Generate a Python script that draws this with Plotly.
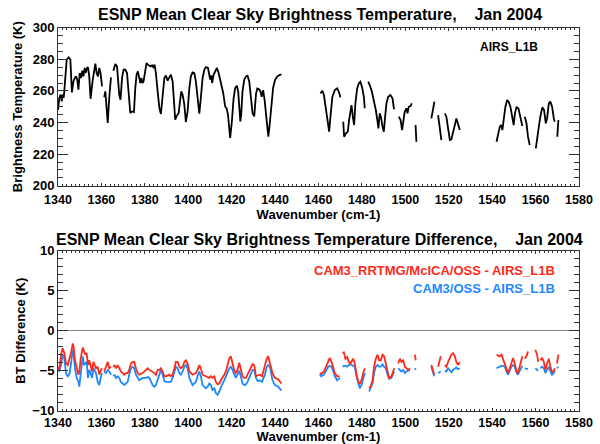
import plotly.graph_objects as go

# ---------------- data ----------------
WN_TOP = [
    1340.0, 1340.6, 1341.2, 1341.7, 1342.1, 1342.6, 1342.9, 1343.4, 1344.0, 1344.9, 1345.7, 1346.4,
    1347.1, 1347.7, 1348.3, 1348.9, 1349.4, 1350.0, 1350.6, 1351.2, 1351.7, 1352.3, 1352.7, 1353.4,
    1353.8, 1354.4, 1355.0, 1355.9, 1356.6, 1357.2, 1357.8, 1358.4, 1359.0, 1359.6, 1360.3, None,
    1361.3, 1361.8, 1362.4, 1362.9, 1363.6, 1364.4, None,
    1365.5, 1366.4, 1367.2, 1367.6, 1368.2, 1368.8, 1369.5, 1370.2, 1371.0, 1371.8, 1372.5, 1373.3,
    1374.1, 1375.0, 1375.6, 1376.2, 1376.8, 1377.4, 1377.9, 1378.4, 1378.9, 1379.4, 1380.2, 1380.8,
    1381.4, 1382.0, 1382.7, 1383.3, 1383.9, 1384.5, 1385.1, 1385.9, 1386.7, 1387.4, 1388.2, 1389.0,
    1389.7, 1390.5, 1391.3, 1392.0, 1392.8, 1393.4, 1394.0, 1394.6, 1395.6, 1396.2, 1396.8, 1397.4,
    1398.2, 1398.9, 1399.7, 1400.5, 1401.2, 1402.0, 1402.8, 1403.5, 1404.3, 1405.1, 1405.8, 1406.6,
    1407.4, 1408.1, 1409.1, 1409.7, 1410.1, 1410.6, 1411.0, 1411.7, 1412.4, 1413.2, 1414.0, 1414.7,
    1415.4, 1416.1, 1417.0, 1417.7, 1418.3, 1418.9, 1419.3, 1420.1, 1420.9, 1421.6, 1422.4, 1423.0,
    1424.0, 1424.4, 1425.0, 1425.8, 1426.6, 1427.3, 1428.1, 1428.9, 1429.6, 1430.4, 1431.2, 1431.8,
    1432.6, 1433.3, 1433.8, 1434.5, 1435.2, 1436.1, 1436.9, 1437.6, 1438.3, 1439.1, 1440.0, 1440.9,
    1442.0, 1442.9, None,
    1460.9, 1461.8, 1462.5, 1463.4, 1464.1, 1464.9, 1465.5, 1466.4, 1467.5, 1468.6, 1469.5, 1470.1, None,
    1471.4, 1471.8, 1472.6, 1473.5, 1474.1, 1474.7, 1475.2, 1475.8, 1476.4, 1477.0, 1477.8, 1478.6,
    1479.3, 1480.1, 1480.9, 1481.3, None,
    1482.9, 1483.6, 1484.6, 1485.5, 1486.4, 1487.2, 1487.6, 1488.2, 1488.9, 1489.5, 1490.1, 1490.7,
    1491.3, 1492.1, 1493.1, 1494.1, 1494.8, None,
    1497.0, 1497.8, 1498.5, 1499.1, 1499.7, 1500.5, 1501.0, 1501.6, 1502.4, 1503.0, None,
    1504.7, 1505.1, None,
    1512.0, 1512.8, 1513.4, None,
    1515.1, 1515.9, 1516.6, None,
    1518.2, 1518.9, 1519.7, 1520.5, 1521.2, 1522.0, 1522.8, 1523.5, 1524.3, 1525.1, None,
    1542.0, 1542.7, 1543.5, 1544.1, 1544.7, 1545.3, 1546.1, 1546.9, 1547.6, 1548.4, 1549.2, 1549.9,
    1550.5, 1551.2, 1552.1, 1552.7, 1553.5, 1553.9, None,
    1555.0, 1555.8, 1556.5, 1557.3, None,
    1560.1, 1560.7, 1561.6, 1562.2, 1563.1, 1563.9, 1564.7, 1565.3, 1566.1, 1566.8, 1567.6, 1568.4,
    1568.8, None,
    1570.0, 1570.5,
]
BT_AIRS = [
    248.0, 255.5, 257.6, 253.4, 257.6, 255.5, 259.7, 272.4, 279.8, 281.2, 279.8, 259.0,
    266.0, 268.0, 269.2, 267.0, 260.8, 271.3, 268.2, 272.8, 269.2, 274.5, 271.3, 274.5,
    275.0, 269.2, 255.0, 266.0, 272.4, 277.2, 271.3, 269.2, 274.5, 271.3, 262.9, None,
    256.0, 259.7, 249.2, 239.7, 255.5, 268.6, None,
    272.8, 277.0, 275.5, 269.2, 257.6, 254.4, 268.2, 273.4, 273.4, 271.3, 257.6, 246.0,
    247.0, 246.6, 261.8, 270.3, 272.4, 269.2, 265.0, 268.2, 265.0, 266.0, 274.5, 277.7,
    276.6, 276.2, 275.5, 276.2, 275.0, 276.6, 271.3, 259.7, 249.2, 245.4, 255.5, 268.2,
    269.8, 266.5, 268.6, 270.3, 266.0, 250.2, 241.8, 243.9, 246.0, 253.4, 259.7, 257.6,
    251.3, 240.3, 247.0, 261.8, 269.2, 271.7, 271.3, 266.0, 253.4, 245.6, 255.5, 268.2,
    273.4, 275.1, 274.5, 270.3, 267.1, 269.8, 265.0, 270.3, 272.8, 274.5, 271.3, 267.1,
    262.9, 258.7, 250.2, 248.8, 245.0, 236.5, 230.2, 240.7, 255.5, 261.8, 263.3, 259.7,
    240.7, 245.0, 259.7, 267.1, 269.2, 269.6, 266.0, 255.5, 246.0, 243.9, 258.0, 261.5,
    261.0, 259.5, 256.3, 260.5, 254.0, 241.5, 231.0, 240.0, 250.0, 262.0, 267.0, 269.0,
    270.0, 270.5, None,
    258.4, 260.1, 257.4, 247.9, 239.5, 234.2, 243.7, 256.3, 260.5, 261.6, 258.9, 255.9, None,
    240.5, 231.0, 233.1, 234.2, 241.6, 249.0, 251.0, 243.7, 238.4, 252.1, 261.6, 264.8,
    265.8, 262.2, 256.3, 249.0, None,
    265.8, 263.7, 259.5, 254.2, 247.9, 240.5, 236.3, 245.8, 242.6, 237.3, 234.2, 243.7,
    252.1, 256.3, 257.4, 255.3, 248.3, None,
    243.7, 241.6, 235.2, 241.6, 246.8, 249.0, 245.8, 250.0, 250.4, 252.1, None,
    238.4, 227.8, None,
    242.6, 249.0, 253.2, None,
    244.7, 236.3, 228.9, None,
    245.8, 243.7, 236.3, 228.9, 229.3, 233.1, 238.4, 242.6, 239.5, 235.2, None,
    227.8, 233.1, 237.3, 238.4, 235.2, 241.6, 250.0, 254.2, 253.2, 250.0, 244.7, 238.4,
    245.8, 249.6, 249.0, 245.8, 240.5, 237.8, None,
    243.7, 239.5, 231.0, 225.7, None,
    223.6, 231.0, 238.4, 243.7, 249.6, 247.9, 239.5, 242.6, 252.1, 253.2, 250.0, 242.6,
    240.5, None,
    231.0, 241.6,
]

WN_DIFF = [
    1340.0, 1340.6, 1341.4, 1342.1, 1342.9, 1343.7, 1344.5, 1345.2, 1346.0, 1346.8, 1347.2, 1347.8,
    1348.6, 1349.4, 1349.8, 1350.4, 1351.4, 1352.0, 1352.6, 1353.2, 1353.8, 1354.4, 1355.0, 1355.7,
    1356.3, 1356.9, 1357.5, 1358.3, 1359.0, 1359.8, 1360.3, None,
    1361.3, 1362.1, 1362.9, 1363.6, 1364.4, None,
    1365.5, 1366.0, 1366.7, 1367.5, 1368.2, 1369.0, 1369.8, 1370.5, 1371.3, 1372.1, 1372.8, 1373.6,
    1374.4, 1375.1, 1375.9, 1376.7, 1377.4, 1379.0, 1380.5, 1381.3, 1382.1, 1383.6, 1384.4, 1385.1,
    1385.9, 1386.7, 1387.4, 1388.2, 1389.0, 1389.7, 1391.3, 1392.0, 1392.8, 1393.6, 1394.3, 1395.1,
    1395.9, 1396.6, 1397.4, 1398.2, 1398.9, 1399.7, 1400.5, 1402.0, 1403.5, 1404.3, 1405.1, 1405.8,
    1406.6, 1408.1, 1408.9, 1409.7, 1410.4, 1411.2, 1412.0, 1412.7, 1413.5, 1414.3, 1415.0, 1415.8,
    1416.6, 1417.3, 1418.1, 1418.9, 1419.6, 1420.4, 1421.2, 1421.9, 1422.7, 1423.5, 1424.2, 1425.0,
    1425.8, 1426.6, 1427.3, 1428.1, 1428.9, 1429.6, 1430.4, 1431.2, 1432.0, 1433.0, 1434.0, 1435.3,
    1436.0, 1436.8, 1437.6, 1438.8, 1439.9, 1441.5, 1442.9, None,
    1460.6, 1461.3, 1462.5, 1463.4, 1464.5, 1465.2, 1466.0, 1466.8, 1467.5, 1468.6, 1469.8, None,
    1471.1, 1471.7, 1472.4, 1473.2, 1474.0, 1474.7, 1476.0, 1476.7, 1477.5, 1478.3, 1479.0, 1479.8,
    1480.6, 1481.3, None,
    1483.3, 1484.0, 1484.9, 1485.6, 1486.4, 1487.2, 1487.9, 1488.7, 1489.5, 1490.2, 1491.0, 1491.8,
    1492.5, 1493.6, 1494.4, 1494.9, None,
    1496.7, 1497.5, 1498.2, 1499.0, 1499.8, 1500.5, 1501.3, 1502.1, None,
    1504.4, 1504.8, None,
    1512.0, 1512.8, 1513.3, None,
    1515.1, 1515.9, 1516.3, None,
    1518.2, 1518.9, 1519.7, 1520.5, 1521.2, 1522.0, 1522.8, 1523.5, 1524.3, 1525.1, None,
    1542.0, 1542.7, 1543.5, 1544.3, 1545.0, 1545.8, 1546.6, 1547.3, 1548.1, 1548.9, 1549.6, 1550.4,
    1551.2, 1551.9, 1552.7, 1553.5, 1553.9, None,
    1555.0, 1555.8, 1556.5, None,
    1559.9, 1560.7, 1561.2, None,
    1562.2, 1563.0, 1563.8, 1564.5, 1565.3, 1566.1, 1566.8, 1567.6, 1568.4, 1568.8, None,
    1569.9, 1570.5,
]
DIFF_RRTMG = [
    -4.5, -4.9, -3.0, -2.2, -2.8, -4.1, -4.3, -3.7, -2.8, -1.6, -2.0, -3.7,
    -4.7, -5.5, -5.2, -3.6, -2.1, -2.6, -3.0, -2.8, -4.3, -3.7, -4.5, -5.1,
    -3.9, -4.3, -4.7, -4.5, -5.5, -4.9, -4.7, None,
    -5.1, -4.5, -3.9, -4.7, -4.5, None,
    -4.5, -4.3, -4.7, -4.3, -4.7, -5.1, -5.3, -5.5, -5.3, -5.3, -4.9, -4.1,
    -3.9, -3.9, -4.7, -5.3, -5.5, -5.3, -4.9, -4.7, -4.9, -5.1, -5.3, -5.5,
    -4.9, -4.9, -4.7, -5.1, -5.7, -5.7, -5.5, -5.7, -5.5, -4.7, -3.9, -3.9,
    -4.5, -4.7, -4.5, -3.9, -3.7, -4.1, -5.1, -5.5, -5.3, -4.9, -4.3, -4.7,
    -5.5, -5.7, -5.8, -5.9, -5.7, -5.9, -5.7, -6.4, -6.7, -6.6, -6.2, -5.9,
    -5.5, -5.1, -4.3, -3.5, -3.2, -4.1, -5.0, -5.3, -4.9, -4.0, -4.8, -5.7,
    -5.9, -5.9, -5.5, -5.1, -4.7, -4.2, -4.3, -5.7, -5.6, -5.5, -5.7, -4.5,
    -3.6, -3.2, -4.0, -5.3, -5.9, -6.1, -6.6, None,
    -5.3, -5.4, -5.1, -4.5, -3.7, -3.4, -3.9, -4.7, -5.3, -5.7, -5.7, None,
    -2.8, -2.7, -3.5, -3.3, -3.9, -4.1, -3.5, -4.1, -5.5, -6.4, -6.6, -6.2,
    -5.3, -4.7, None,
    -7.2, -7.0, -6.2, -4.5, -3.5, -3.0, -3.7, -3.7, -3.0, -3.2, -4.1, -5.3,
    -5.9, -5.7, -5.1, -4.7, None,
    -4.1, -3.5, -3.9, -3.7, -4.5, -4.7, -4.9, -4.7, None,
    -3.0, -3.7, None,
    -4.3, -5.1, -5.5, None,
    -4.5, -3.7, -3.2, None,
    -4.3, -4.5, -3.9, -3.5, -3.0, -2.8, -3.2, -3.9, -4.3, -3.9, None,
    -3.0, -3.1, -3.2, -3.0, -3.5, -4.1, -4.9, -5.3, -4.7, -3.9, -3.4, -4.1,
    -5.1, -5.3, -4.5, -3.5, -3.2, None,
    -3.5, -3.2, -2.6, None,
    -2.4, -3.0, -3.9, None,
    -3.7, -3.4, -3.9, -4.9, -4.1, -3.5, -4.5, -5.2, -5.0, -4.7, None,
    -4.1, -3.0,
]
DIFF_OSS = [
    -4.7, -5.1, -4.3, -3.0, -3.5, -5.3, -5.7, -5.5, -4.1, -2.4, -2.8, -4.7,
    -5.9, -6.4, -7.0, -5.5, -3.2, -4.3, -4.1, -3.9, -5.9, -4.9, -5.3, -5.9,
    -4.7, -5.1, -5.3, -6.4, -6.8, -5.7, -5.3, None,
    -5.1, -5.3, -4.9, -5.1, -5.5, None,
    -5.7, -5.5, -5.9, -5.7, -5.9, -6.4, -6.6, -6.8, -6.6, -6.4, -5.5, -4.7,
    -4.5, -4.7, -5.5, -5.9, -6.2, -5.9, -5.9, -5.8, -5.9, -6.8, -7.0, -6.8,
    -6.2, -5.5, -4.9, -5.5, -6.3, -6.4, -6.4, -6.4, -5.9, -5.1, -4.5, -4.7,
    -5.3, -5.5, -5.1, -4.5, -4.3, -4.7, -5.9, -6.8, -6.4, -5.7, -5.1, -5.7,
    -6.8, -7.2, -7.0, -6.6, -6.8, -7.4, -7.2, -7.8, -8.0, -7.6, -7.0, -6.6,
    -6.2, -5.7, -5.1, -4.7, -4.5, -4.9, -5.5, -5.9, -5.5, -5.0, -5.7, -6.6,
    -6.8, -6.7, -6.4, -5.9, -5.3, -4.9, -4.9, -5.9, -6.3, -6.2, -6.4, -5.5,
    -4.6, -4.3, -4.5, -6.2, -6.8, -7.0, -7.5, None,
    -5.5, -5.7, -5.5, -5.1, -4.5, -4.4, -4.5, -5.1, -5.7, -6.2, -5.9, None,
    -4.5, -4.4, -4.4, -4.5, -4.3, -4.2, -4.4, -4.5, -5.7, -6.6, -7.2, -6.8,
    -5.9, -5.3, None,
    -7.6, -7.2, -6.6, -5.3, -4.5, -4.3, -4.5, -4.5, -4.2, -4.5, -4.7, -5.5,
    -6.0, -5.9, -5.5, -5.1, None,
    -4.7, -4.9, -5.1, -4.9, -5.3, -5.1, -5.0, -4.9, None,
    -4.7, -4.9, None,
    -4.5, -5.3, -5.7, None,
    -5.3, -5.1, -5.1, None,
    -5.0, -5.1, -4.7, -4.9, -5.2, -4.9, -4.7, -4.6, -4.8, -4.7, None,
    -4.7, -4.6, -4.5, -4.4, -4.4, -4.5, -5.1, -5.5, -5.0, -4.5, -4.3, -4.5,
    -5.2, -5.5, -5.0, -4.5, -4.4, None,
    -4.7, -4.8, -4.8, None,
    -4.7, -4.9, -5.0, None,
    -4.7, -4.5, -4.7, -5.3, -4.9, -4.5, -5.1, -5.5, -5.3, -5.0, None,
    -4.7, -4.5,
]

TITLE_TOP = "ESNP Mean Clear Sky Brightness Temperature,\u00a0\u00a0\u00a0\u00a0Jan 2004"
TITLE_BOT = "ESNP Mean Clear Sky Brightness Temperature Difference,\u00a0\u00a0\u00a0\u00a0Jan 2004"
LABEL_AIRS = "AIRS_L1B"
LABEL_RRTMG = "CAM3_RRTMG/McICA/OSS - AIRS_L1B"
LABEL_OSS = "CAM3/OSS - AIRS_L1B"
XTITLE = "Wavenumber (cm-1)"

# ---------------- figure ----------------
FONT = "Liberation Sans"
RED = "#FF2A1A"
BLUE = "#1E88FF"
AXC = "#333333"

fig = go.Figure()
fig.add_trace(go.Scatter(x=WN_TOP, y=BT_AIRS, mode="lines", line=dict(color="black", width=1.8),
                         xaxis="x", yaxis="y", showlegend=False, hoverinfo="skip"))
fig.add_trace(go.Scatter(x=WN_DIFF, y=DIFF_OSS, mode="lines", line=dict(color=BLUE, width=1.8),
                         xaxis="x2", yaxis="y2", showlegend=False, hoverinfo="skip"))
fig.add_trace(go.Scatter(x=WN_DIFF, y=DIFF_RRTMG, mode="lines", line=dict(color=RED, width=1.8),
                         xaxis="x2", yaxis="y2", showlegend=False, hoverinfo="skip"))

ytickfont = dict(family=FONT, size=13, color="black", weight="bold")
xtickfont = dict(family=FONT, size=12.5, color="black", weight="bold")
titlefont = dict(family=FONT, size=13, color="black", weight="bold")

def xax(anchor, standoff):
    return dict(domain=[58 / 600, 579 / 600], range=[1340, 1580], anchor=anchor, automargin=False,
                tick0=1340, dtick=20, ticks="inside", ticklen=3, tickcolor=AXC,
                minor=dict(dtick=2, ticks="inside", ticklen=2, tickcolor=AXC),
                showline=True, linecolor=AXC, linewidth=1, mirror="allticks",
                showgrid=False, zeroline=False, tickfont=xtickfont, ticklabelstandoff=standoff,
                title=dict(text=XTITLE, font=titlefont, standoff=2))

fig.update_layout(
    width=600, height=444, autosize=False,
    margin=dict(l=0, r=0, t=0, b=0),
    paper_bgcolor="white", plot_bgcolor="white",
    xaxis=xax("y", 2),
    xaxis2=xax("y2", 0),
    yaxis=dict(domain=[1 - 185.7 / 444, 1 - 27.7 / 444], range=[200, 300], anchor="x", automargin=False,
               tick0=200, dtick=20, ticks="inside", ticklen=10, tickcolor=AXC,
               minor=dict(dtick=5, ticks="inside", ticklen=5, tickcolor=AXC),
               showline=True, linecolor=AXC, linewidth=1, mirror="allticks",
               showgrid=False, zeroline=False, tickfont=ytickfont,
               title=dict(text="Brightness Temperature (K)", font=titlefont, standoff=7)),
    yaxis2=dict(domain=[1 - 410.7 / 444, 1 - 250.7 / 444], range=[-10, 10], anchor="x2", automargin=False,
                tick0=-10, dtick=5, ticks="inside", ticklen=10, tickcolor=AXC,
                minor=dict(dtick=1, ticks="inside", ticklen=5, tickcolor=AXC),
                showline=True, linecolor=AXC, linewidth=1, mirror="allticks",
                showgrid=False, zeroline=True, zerolinecolor="#8a8a8a", zerolinewidth=1,
                tickfont=ytickfont,
                title=dict(text="BT Difference (K)", font=titlefont, standoff=3)),
    annotations=[
        dict(text=TITLE_TOP, x=319.5 / 600, y=1 - 15 / 444, xref="paper", yref="paper",
             showarrow=False, xanchor="center", yanchor="middle",
             font=dict(family=FONT, size=16, color="black", weight="bold")),
        dict(text=TITLE_BOT, x=319 / 600, y=1 - 239 / 444, xref="paper", yref="paper",
             showarrow=False, xanchor="center", yanchor="middle",
             font=dict(family=FONT, size=16, color="black", weight="bold")),
        dict(text=LABEL_AIRS, x=540 / 600, y=1 - 47 / 444, xref="paper", yref="paper",
             showarrow=False, xanchor="right", yanchor="middle",
             font=dict(family=FONT, size=12, color="black", weight="bold")),
        dict(text=LABEL_RRTMG, x=557 / 600, y=1 - 270 / 444, xref="paper", yref="paper",
             showarrow=False, xanchor="right", yanchor="middle",
             font=dict(family=FONT, size=13, color=RED, weight="bold")),
        dict(text=LABEL_OSS, x=557 / 600, y=1 - 288 / 444, xref="paper", yref="paper",
             showarrow=False, xanchor="right", yanchor="middle",
             font=dict(family=FONT, size=13, color=BLUE, weight="bold")),
    ],
)

fig.write_html(
    "out.html",
    config={"displayModeBar": False},
    post_script="document.body.style.margin='0';document.body.style.overflow='hidden';",
)
